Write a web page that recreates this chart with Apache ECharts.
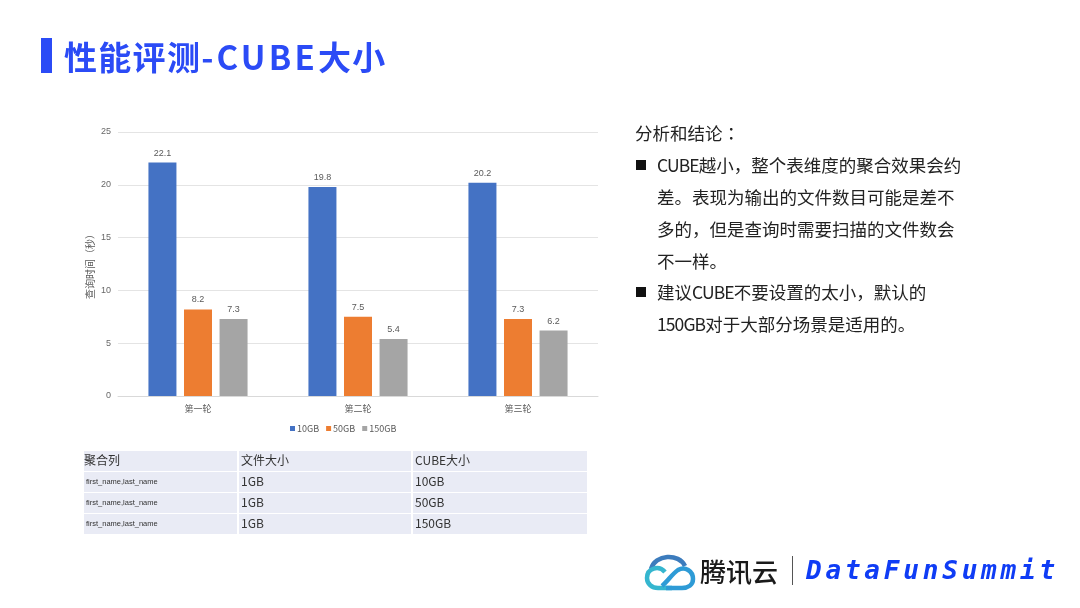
<!DOCTYPE html>
<html>
<head>
<meta charset="utf-8">
<script src="https://cdn.jsdelivr.net/npm/echarts@6/dist/echarts.min.js"></script>
<style>
  html,body{margin:0;padding:0;background:#fff;}
  body{width:1080px;height:608px;position:relative;overflow:hidden;font-family:"Noto Sans CJK SC","Liberation Sans",sans-serif;}
  #chart{position:absolute;left:0;top:0;width:1080px;height:608px;}
  .abs{position:absolute;white-space:nowrap;}
  #titleBar{left:41px;top:38px;width:11px;height:35px;background:#2b4bf6;}
  #title{left:64px;top:33px;font-size:33px;line-height:46px;font-weight:700;color:#2b4bf6;letter-spacing:1.3px;}
  #title span{letter-spacing:3.2px;}
  .note{font-size:17.5px;line-height:24px;color:#222;}
  .note span{letter-spacing:-0.9px;}
  .note i{font-style:normal;font-family:"Noto Sans CJK TC";}
  .bullet{width:10px;height:10px;background:#111;}
  #tbl{position:absolute;left:84px;top:450px;border-collapse:separate;border-spacing:2px 1px;margin:0 0 0 -2px;table-layout:fixed;}
  #tbl td{background:#e9ebf5;height:20px;padding:0 0 0 2px;color:#333;font-size:12px;line-height:18px;vertical-align:top;overflow:hidden;white-space:nowrap;}
  #tbl td:first-child{padding-left:0;}
  #tbl td.small{font-family:"Liberation Sans",sans-serif;font-size:7.5px;padding-left:2px;line-height:20px;}
  #brand{left:806px;top:552px;font-family:"DejaVu Sans Mono",monospace;font-weight:700;font-style:italic;font-size:26px;line-height:36px;color:#0f3cf5;letter-spacing:3.8px;}
  #tencent{left:700px;top:551px;font-size:26px;line-height:40px;font-weight:500;color:#1a1a1a;}
  #divider{left:792px;top:556px;width:1px;height:29px;background:#555;}
</style>
</head>
<body>
<div id="chart"></div>
<div id="titleBar" class="abs"></div>
<div id="title" class="abs">性能评测<span>-CUBE</span>大小</div>
<div id="notes"></div>
<table id="tbl"></table>
<svg class="abs" style="left:644px;top:553px" width="52" height="38" viewBox="0 0 52 38">
  <path d="M7 16 C11 1 35 0 41 13" fill="none" stroke="#3c7cbd" stroke-width="4.5"/>
  <path d="M21 19 C15 12 3 15 3 25 C3 31 8 35 14 35 L28 35" fill="none" stroke="#35b6cf" stroke-width="4.5"/>
  <path d="M18 33 C24 28 28 21 34 17 C41 13 49 18 49 26 C49 32 44 35 38 35 L22 35" fill="none" stroke="#2e9bd6" stroke-width="4.5"/>
</svg>
<div id="tencent" class="abs">腾讯云</div>
<div id="divider" class="abs"></div>
<div id="brand" class="abs">DataFunSummit</div>
<script>
var rounds = ['第一轮', '第二轮', '第三轮'];
var seriesNames = ['10GB', '50GB', '150GB'];
var values10 = [22.1, 19.8, 20.2];
var values50 = [8.2, 7.5, 7.3];
var values150 = [7.3, 5.4, 6.2];
var colors = ['#4472c4', '#ed7d31', '#a5a5a5'];

var tableHead = ['聚合列', '文件大小', 'CUBE大小'];
var tableCols = ['first_name,last_name', '1GB'];
var tableCube = ['10GB', '50GB', '150GB'];
var colWidths = [153, 170, 172];

// 右侧文字
var noteLines = [
  ['分析和结论：', 635, 121, false],
  ['CUBE越小，整个表维度的聚合效果会约', 657, 153, true],
  ['差。表现为输出的文件数目可能是差不', 657, 185, false],
  ['多的，但是查询时需要扫描的文件数会', 657, 217, false],
  ['不一样。', 657, 249, false],
  ['建议CUBE不要设置的太小，默认的', 657, 280, true],
  ['150GB对于大部分场景是适用的。', 657, 312, false]
];

var notes = document.getElementById('notes');
noteLines.forEach(function (l) {
  var d = document.createElement('div');
  d.className = 'abs note';
  d.style.left = l[1] + 'px';
  d.style.top = l[2] + 'px';
  d.innerHTML = l[0].replace(/[A-Za-z0-9]+/g, '<span>$&</span>').replace('：', '<i>：</i>');
  notes.appendChild(d);
  if (l[3]) {
    var b = document.createElement('div');
    b.className = 'abs bullet';
    b.style.left = '636px';
    b.style.top = (l[2] + 7) + 'px';
    notes.appendChild(b);
  }
});

// 表格
var html = '<colgroup>' + colWidths.map(function (w, i) { return '<col style="width:' + (w + (i ? 2 : 0)) + 'px">'; }).join('') + '</colgroup>';
html += '<tr>' + tableHead.map(function (t) { return '<td>' + t + '</td>'; }).join('') + '</tr>';
tableCube.forEach(function (c) {
  html += '<tr><td class="small">' + tableCols[0] + '</td><td>' + tableCols[1] + '</td><td>' + c + '</td></tr>';
});
document.getElementById('tbl').innerHTML = html;

var labelStyle = { show: true, position: 'top', distance: 5, fontSize: 9, color: '#595959', fontFamily: 'Liberation Sans' };
function bar(i, data) {
  return {
    name: seriesNames[i],
    type: 'bar',
    barWidth: 28,
    barGap: '27%',
    itemStyle: { color: colors[i] },
    label: labelStyle,
    data: data
  };
}

var chart = echarts.init(document.getElementById('chart'));
chart.setOption({
  animation: false,
  backgroundColor: 'transparent',
  color: colors,
  textStyle: { fontFamily: 'Noto Sans CJK SC' },
  grid: { left: 118, top: 132, width: 480, height: 264 },
  legend: {
    data: seriesNames,
    top: 419,
    left: 285,
    itemWidth: 5,
    itemHeight: 5,
    itemGap: 7,
    icon: 'rect',
    textStyle: { fontSize: 9, color: '#595959', padding: [0, 0, 0, -3] }
  },
  xAxis: {
    type: 'category',
    data: rounds,
    axisLine: { lineStyle: { color: '#d9d9d9' } },
    axisTick: { show: false },
    axisLabel: { fontSize: 9, color: '#595959', margin: 8 }
  },
  yAxis: {
    type: 'value',
    min: 0,
    max: 25,
    interval: 5,
    name: '查询时间（秒）',
    nameLocation: 'middle',
    nameGap: 23,
    nameTextStyle: { fontSize: 10, color: '#595959' },
    axisLine: { show: false },
    axisTick: { show: false },
    axisLabel: { fontSize: 9, color: '#686868', margin: 7, fontFamily: 'Liberation Sans' },
    splitLine: { lineStyle: { color: '#e4e4e4' } }
  },
  series: [bar(0, values10), bar(1, values50), bar(2, values150)]
});
</script>
</body>
</html>
